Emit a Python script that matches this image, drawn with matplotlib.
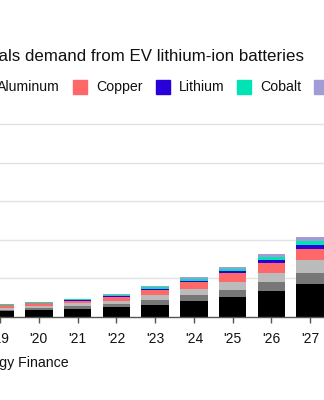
import numpy as np
import matplotlib
matplotlib.use("Agg")
import matplotlib.pyplot as plt
from matplotlib.patches import Rectangle

plt.rcParams['font.family'] = ['Liberation Sans', 'DejaVu Sans']

# values (stack bottom -> top), arbitrary units, grid step = 1
years = ["'19", "'20", "'21", "'22", "'23", "'24", "'25", "'26", "'27"]
graphite = [0.15, 0.19, 0.22, 0.25, 0.32, 0.42, 0.51, 0.68, 0.85]
nickel = [0.04, 0.05, 0.07, 0.09, 0.12, 0.15, 0.19, 0.23, 0.29]
aluminum = [0.05, 0.05, 0.06, 0.085, 0.13, 0.155, 0.215, 0.235, 0.34]
copper = [0.06, 0.06, 0.07, 0.095, 0.13, 0.175, 0.225, 0.245, 0.28]
lithium = [0.015, 0.02, 0.02, 0.035, 0.03, 0.035, 0.05, 0.085, 0.11]
cobalt = [0.015, 0.015, 0.015, 0.025, 0.05, 0.05, 0.05, 0.07, 0.10]
manganese = [0.01, 0.01, 0.01, 0.02, 0.02, 0.045, 0.05, 0.075, 0.09]

names = ['Graphite', 'Nickel', 'Aluminum', 'Copper', 'Lithium', 'Cobalt', 'Manganese']
series = [graphite, nickel, aluminum, copper, lithium, cobalt, manganese]
colors = ['#000000', '#777777', '#bbbbbb', '#ff6868', '#2a00d8', '#00e3b4', '#a19bd6']

W, H = 324, 400
def fx(px):
    return px / W
def fy(py):
    return 1 - py / H

fig = plt.figure(figsize=(W / 100, H / 100), dpi=100)

# axes: baseline at y=317px, bars every ~39.4px, '20 centred at x=34px
step = 39.43
x0 = 34 - step
ax = fig.add_axes([0, fy(317), 1, (317 - 116.3) / H])
ax.set_ylim(0, 5.2)
ax.set_xlim(-x0 / step, (W - x0) / step)

x = np.arange(len(years))
bottom = np.zeros(len(years))
for vals, c in zip(series, colors):
    ax.bar(x, vals, 0.71, bottom=bottom, color=c, zorder=3)
    bottom += np.array(vals)

ax.set_yticks([1, 2, 3, 4, 5])
ax.yaxis.grid(True, color='#e2e2e2', lw=1.0, zorder=0)
ax.tick_params(axis='y', left=False, labelleft=False)
for s in ['top', 'left', 'right']:
    ax.spines[s].set_visible(False)
ax.spines['bottom'].set_color('#555555')
ax.spines['bottom'].set_linewidth(1.0)
ax.spines['bottom'].set_zorder(4)
ax.set_xticks(x)
ax.set_xticklabels(years)
ax.tick_params(axis='x', length=4, width=1, color='#555555', labelsize=10,
               pad=6.5, labelcolor='#111111')

# title (left part runs off the crop)
fig.text(fx(304), fy(57), 'Battery metals demand from EV lithium-ion batteries',
         ha='right', va='center', fontsize=12.2, color='#111111')

# legend drawn by hand
fig.canvas.draw()
rend = fig.canvas.get_renderer()
sq, gap_t, gap_i, ly = 14, 9, 13, 87

def square(px, c):
    fig.patches.append(Rectangle((fx(px), fy(ly + sq / 2)), sq / W, sq / H,
                                 transform=fig.transFigure, figure=fig,
                                 color=c))

px = 73
for i in range(3, len(names)):
    square(px, colors[i])
    t = fig.text(fx(px + sq + gap_t), fy(ly), names[i], ha='left', va='center',
                 fontsize=10.2, color='#111111')
    w = t.get_window_extent(rend).width
    px = px + sq + gap_t + w + gap_i

px_end = 73 - gap_i
for i in range(2, -1, -1):
    t = fig.text(fx(px_end), fy(ly), names[i], ha='right', va='center',
                 fontsize=10.2, color='#111111')
    w = t.get_window_extent(rend).width
    sq_left = px_end - w - gap_t - sq
    square(sq_left, colors[i])
    px_end = sq_left - gap_i

fig.text(fx(69), fy(363), 'Source: Bloomberg New Energy Finance', ha='right',
         va='center', fontsize=10.2, color='#111111')

fig.savefig('out.png', dpi=100)
